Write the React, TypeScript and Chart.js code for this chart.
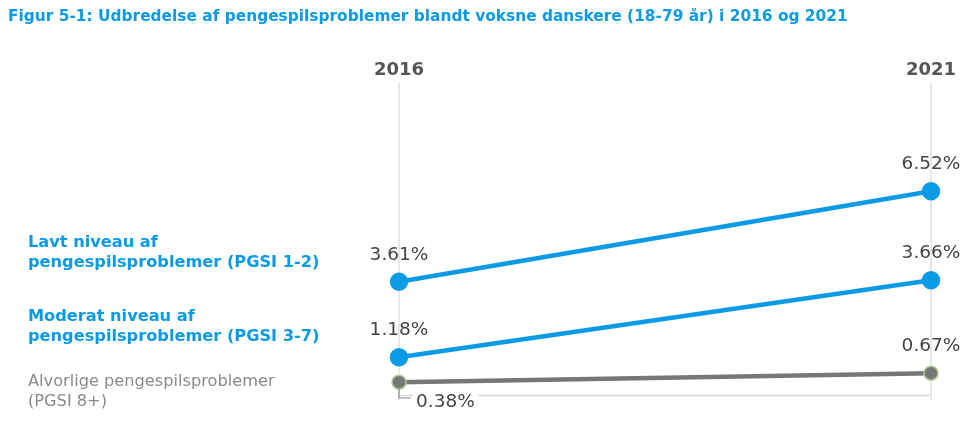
import React, { useEffect, useRef } from "react";
import { Chart, registerables } from "chart.js";

Chart.register(...registerables);

const TITLE = "Figur 5-1: Udbredelse af pengespilsproblemer blandt voksne danskere (18-79 år) i 2016 og 2021";
const years = ["2016", "2021"];
const lavt = [3.61, 6.52];
const moderat = [1.18, 3.66];
const alvorlig = [0.38, 0.67];
const seriesNames = [
  ["Lavt niveau af", "pengespilsproblemer (PGSI 1-2)"],
  ["Moderat niveau af", "pengespilsproblemer (PGSI 3-7)"],
  ["Alvorlige pengespilsproblemer", "(PGSI 8+)"],
];

const BLUE = "#0b9be6";
const GREY_LINE = "#777777";
const FONT = "'DejaVu Sans', Verdana, sans-serif";

const fmt = (v: number) => v.toFixed(2) + "%";

const decorations = {
  id: "slopeDecorations",
  beforeDatasetsDraw(chart: any) {
    const { ctx, chartArea, scales } = chart;
    const x = scales.x;
    const y = scales.y;
    ctx.save();
    // title
    ctx.fillStyle = BLUE;
    ctx.font = `bold 15.4px ${FONT}`;
    ctx.textAlign = "left";
    ctx.textBaseline = "middle";
    ctx.fillText(TITLE, 0, 9);

    // vertical year guides
    ctx.strokeStyle = "#e8e8e8";
    ctx.lineWidth = 2;
    years.forEach((_, i) => {
      const px = x.getPixelForValue(i);
      ctx.beginPath();
      ctx.moveTo(px, chartArea.top);
      ctx.lineTo(px, y.getPixelForValue(0) + 6);
      ctx.stroke();
    });
    // baseline
    ctx.strokeStyle = "#d9d9d9";
    ctx.lineWidth = 1.5;
    ctx.beginPath();
    ctx.moveTo(x.getPixelForValue(0), y.getPixelForValue(0) + 1.5);
    ctx.lineTo(x.getPixelForValue(1), y.getPixelForValue(0) + 1.5);
    ctx.stroke();

    // year headings
    ctx.fillStyle = "#555555";
    ctx.font = `bold 18px ${FONT}`;
    ctx.textAlign = "center";
    years.forEach((yr, i) => {
      ctx.fillText(yr, x.getPixelForValue(i), chartArea.top - 13);
    });

    // series names on the left
    const nameX = 20;
    const styles = [
      { color: BLUE, font: `bold 16.2px ${FONT}` },
      { color: BLUE, font: `bold 16.2px ${FONT}` },
      { color: "#8a8a8a", font: `16.2px ${FONT}` },
    ];
    const anchors = [235, 309, 374];
    seriesNames.forEach((lines, s) => {
      ctx.fillStyle = styles[s].color;
      ctx.font = styles[s].font;
      ctx.textAlign = "left";
      lines.forEach((ln, j) => ctx.fillText(ln, nameX, anchors[s] + j * 20));
    });
    ctx.restore();
  },
  afterDatasetsDraw(chart: any) {
    const { ctx, scales } = chart;
    const x = scales.x;
    const y = scales.y;
    ctx.save();
    ctx.font = `18.5px ${FONT}`;
    ctx.fillStyle = "#444444";
    ctx.textBaseline = "middle";
    ctx.textAlign = "center";
    const above = [lavt, moderat];
    above.forEach((arr) => {
      arr.forEach((v, i) => {
        ctx.fillText(fmt(v), x.getPixelForValue(i), y.getPixelForValue(v) - 27);
      });
    });
    ctx.fillText(fmt(alvorlig[1]), x.getPixelForValue(1), y.getPixelForValue(alvorlig[1]) - 27);

    // 2016 value for the smallest series sits below with a leader line
    const px = x.getPixelForValue(0);
    const py = y.getPixelForValue(alvorlig[0]);
    const ly = y.getPixelForValue(0) + 2;
    const w = ctx.measureText(fmt(alvorlig[0])).width;
    ctx.fillStyle = "#ffffff";
    ctx.fillRect(px + 14, ly - 3, w + 6, 16);
    ctx.strokeStyle = "#8a8a8a";
    ctx.lineWidth = 1.2;
    ctx.beginPath();
    ctx.moveTo(px, py + 4);
    ctx.lineTo(px, ly + 2);
    ctx.lineTo(px + 12, ly + 2);
    ctx.stroke();
    ctx.fillStyle = "#444444";
    ctx.textAlign = "left";
    ctx.fillText(fmt(alvorlig[0]), px + 17, ly + 6);
    ctx.restore();
  },
};

export default function App() {
  const ref = useRef<HTMLCanvasElement | null>(null);
  useEffect(() => {
    if (!ref.current) return;
    const chart = new Chart(ref.current, {
      type: "line",
      data: {
        labels: years,
        datasets: [
          {
            data: lavt,
            borderColor: BLUE,
            backgroundColor: BLUE,
            pointBackgroundColor: BLUE,
            pointBorderColor: BLUE,
            borderWidth: 4.5,
            pointRadius: 7,
          },
          {
            data: moderat,
            borderColor: BLUE,
            backgroundColor: BLUE,
            pointBackgroundColor: BLUE,
            pointBorderColor: BLUE,
            borderWidth: 4.5,
            pointRadius: 7,
          },
          {
            data: alvorlig,
            borderColor: GREY_LINE,
            backgroundColor: GREY_LINE,
            pointBackgroundColor: GREY_LINE,
            pointBorderColor: "#b5cc95",
            pointBorderWidth: 1.5,
            borderWidth: 4.5,
            pointRadius: 7,
          },
        ],
      },
      options: {
        animation: false,
        responsive: false,
        events: [],
        clip: false as any,
        layout: { padding: { left: 391, right: 37, top: 75, bottom: 19 } },
        plugins: { legend: { display: false }, tooltip: { enabled: false } },
        scales: {
          x: { display: false, offset: false },
          y: { display: false, min: 0, max: 10 },
        },
      },
      plugins: [decorations],
    });
    return () => chart.destroy();
  }, []);
  return <canvas ref={ref} width={960} height={405} style={{ display: "block" }} />;
}
